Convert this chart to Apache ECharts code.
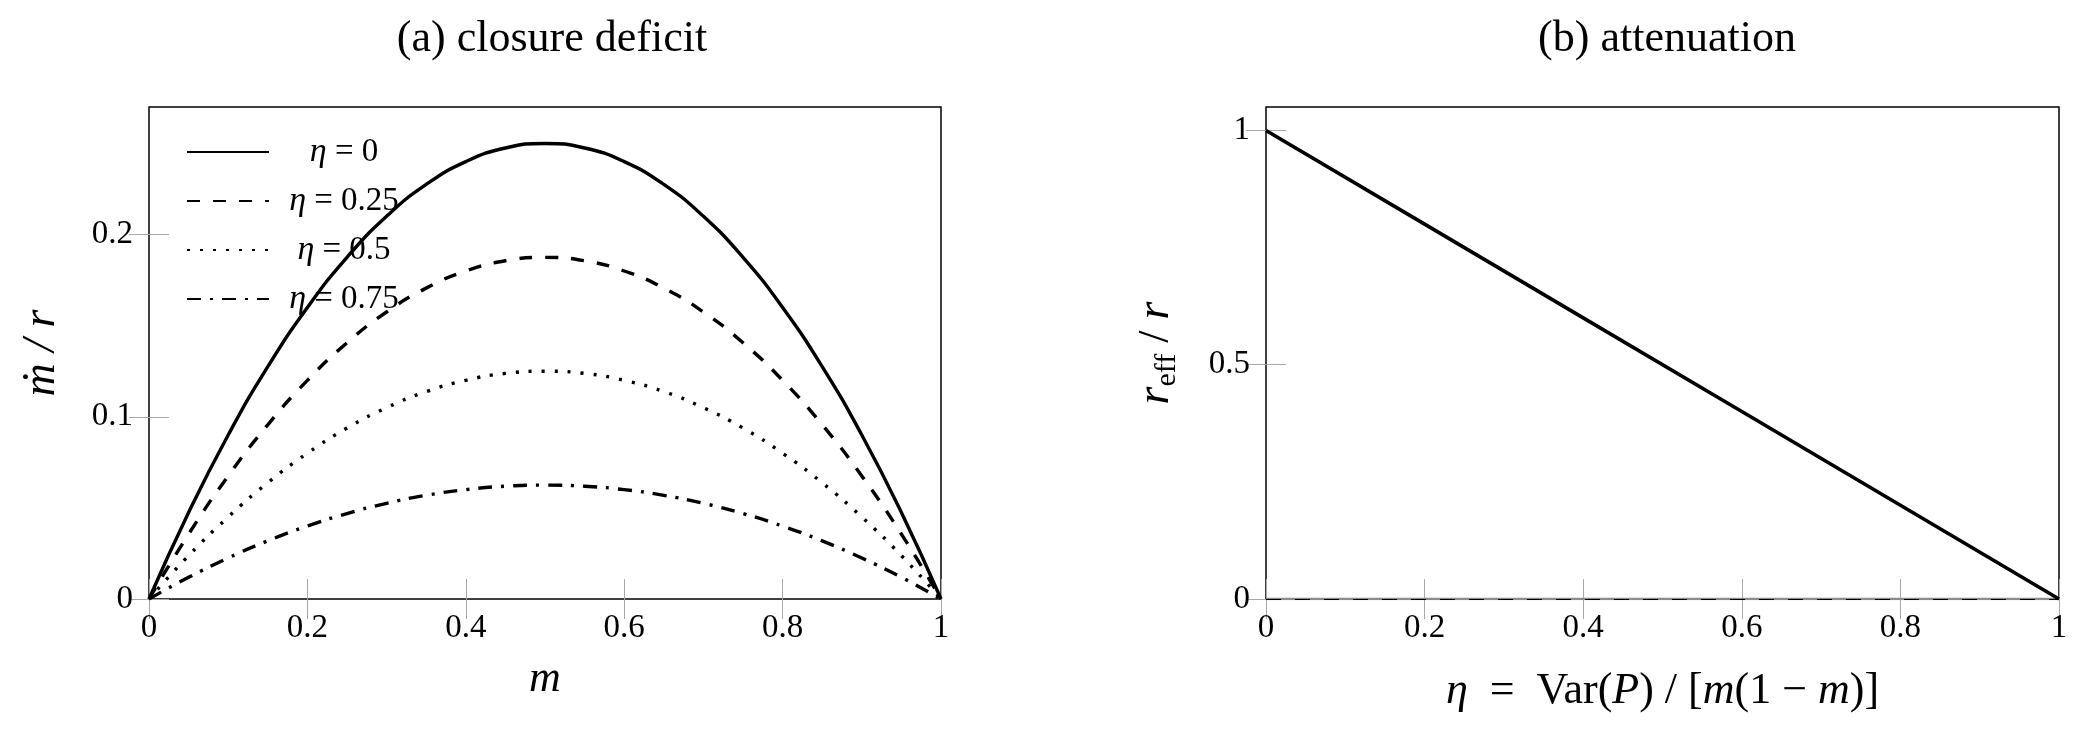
<!DOCTYPE html>
<html>
<head>
<meta charset="utf-8">
<script src="https://cdn.jsdelivr.net/npm/echarts@6/dist/echarts.min.js"></script>
<style>
  html, body { margin: 0; padding: 0; background: #fff; }
  #chart { width: 2084px; height: 738px; }
</style>
</head>
<body>
<div id="chart"></div>
<script>
// (a) closure deficit, every 0.05 in m
var mValues = [0, 0.05, 0.1, 0.15, 0.2, 0.25, 0.3, 0.35, 0.4, 0.45, 0.5,
               0.55, 0.6, 0.65, 0.7, 0.75, 0.8, 0.85, 0.9, 0.95, 1];
var eta0Values = [0, 0.0475, 0.09, 0.1275, 0.16, 0.1875, 0.21, 0.2275, 0.24, 0.2475, 0.25,
                  0.2475, 0.24, 0.2275, 0.21, 0.1875, 0.16, 0.1275, 0.09, 0.0475, 0];
var eta25Values = [0, 0.0356, 0.0675, 0.0956, 0.12, 0.1406, 0.1575, 0.1706, 0.18, 0.1856, 0.1875,
                   0.1856, 0.18, 0.1706, 0.1575, 0.1406, 0.12, 0.0956, 0.0675, 0.0356, 0];
var eta50Values = [0, 0.0238, 0.045, 0.0638, 0.08, 0.0938, 0.105, 0.1138, 0.12, 0.1238, 0.125,
                   0.1238, 0.12, 0.1138, 0.105, 0.0938, 0.08, 0.0638, 0.045, 0.0238, 0];
var eta75Values = [0, 0.0119, 0.0225, 0.0319, 0.04, 0.0469, 0.0525, 0.0569, 0.06, 0.0619, 0.0625,
                   0.0619, 0.06, 0.0569, 0.0525, 0.0469, 0.04, 0.0319, 0.0225, 0.0119, 0];
var legendNames = ['η = 0', 'η = 0.25', 'η = 0.5', 'η = 0.75'];

// (b) attenuation
var etaValues = [0, 0.2, 0.4, 0.6, 0.8, 1];
var ratioValues = [1, 0.8, 0.6, 0.4, 0.2, 0];
var zeroX = [0, 1];
var zeroY = [0, 0];

// tick labels
var xTicks = [0, 0.2, 0.4, 0.6, 0.8, 1];
var yTicksA = [0, 0.1, 0.2];
var yTicksB = [0, 0.5, 1];

var FONT = 'Liberation Serif';
var TICK_GRAY = '#a8a8a8';

function pairs(xs, ys) {
    var out = [];
    for (var i = 0; i < xs.length; i++) {
        out.push([xs[i], ys[i]]);
    }
    return out;
}

function axis(gridIndex, position, min, max, ticks, showLabels, margin) {
    return {
        type: 'value',
        gridIndex: gridIndex,
        position: position,
        min: min,
        max: max,
        axisLine: { show: false },
        splitLine: { show: false },
        axisTick: {
            show: true,
            inside: true,
            length: 20,
            customValues: ticks,
            lineStyle: { color: TICK_GRAY, width: 1 }
        },
        axisLabel: {
            show: showLabels,
            customValues: ticks,
            margin: margin,
            fontFamily: FONT,
            fontSize: 33,
            color: '#000'
        }
    };
}

var titleStyle = { fontFamily: FONT, fontSize: 44, fontWeight: 'normal', color: '#000' };

var xA = axis(0, 'bottom', 0, 1, xTicks, true, 13);
xA.name = 'm';
xA.nameLocation = 'middle';
xA.nameGap = 58;
xA.nameTextStyle = { fontFamily: FONT, fontSize: 44, fontStyle: 'italic', color: '#000' };

var xB = axis(1, 'bottom', 0, 1, xTicks, true, 13);
xB.name = '{i|η}{t|  =  Var(}{i|P}{t|) / [}{i|m}{t|(1 − }{i|m}{t|)]}';
xB.nameLocation = 'middle';
xB.nameGap = 70;
xB.nameTextStyle = {
    fontFamily: FONT, fontSize: 44, color: '#000',
    rich: {
        i: { fontFamily: FONT, fontSize: 44, fontStyle: 'italic', color: '#000' },
        t: { fontFamily: FONT, fontSize: 44, color: '#000' }
    }
};

var yA = axis(0, 'left', 0, 0.27, yTicksA, true, 16);
yA.name = 'ṁ / r';
yA.nameLocation = 'middle';
yA.nameGap = 84;
yA.nameTextStyle = { fontFamily: FONT, fontSize: 46, fontStyle: 'italic', color: '#000' };

var yB = axis(1, 'left', 0, 1.05, yTicksB, true, 16);
yB.name = '{r|r}{s|eff}{t| / }{r|r}';
yB.nameLocation = 'middle';
yB.nameGap = 84;
yB.nameTextStyle = {
    fontFamily: FONT, fontSize: 44, color: '#000',
    rich: {
        r: { fontFamily: FONT, fontSize: 46, fontStyle: 'italic', color: '#000', lineHeight: 52 },
        s: { fontFamily: FONT, fontSize: 30, color: '#000', lineHeight: 28, verticalAlign: 'bottom' },
        t: { fontFamily: FONT, fontSize: 44, color: '#000', lineHeight: 52 }
    }
};

function curve(name, ys, dash) {
    return {
        name: name,
        type: 'line',
        xAxisIndex: 0,
        yAxisIndex: 0,
        data: pairs(mValues, ys),
        symbol: 'none',
        smooth: 0.5,
        lineStyle: { color: '#000', width: 3.4, type: dash },
        itemStyle: { color: '#000' }
    };
}

var chart = echarts.init(document.getElementById('chart'));
var option = {
    backgroundColor: '#fff',
    animation: false,
    title: [
        { text: '(a) closure deficit', left: 547, top: 12, textAlign: 'center', textStyle: titleStyle },
        { text: '(b) attenuation', left: 1662, top: 12, textAlign: 'center', textStyle: titleStyle }
    ],
    legend: {
        orient: 'vertical',
        left: 181,
        top: 130,
        itemWidth: 82,
        itemHeight: 14,
        itemGap: 15,
        data: legendNames,
        itemStyle: { opacity: 0 },
        formatter: function (name) {
            return '{i|η}{t|' + name.slice(1) + '}';
        },
        textStyle: {
            fontFamily: FONT, fontSize: 33, color: '#000', width: 140, lineHeight: 31,
            rich: {
                i: { fontFamily: FONT, fontSize: 34, fontStyle: 'italic', color: '#000', align: 'center' },
                t: { fontFamily: FONT, fontSize: 33, color: '#000', align: 'center' }
            }
        }
    },
    grid: [
        { left: 149, top: 107, width: 792, height: 492, show: true, borderColor: '#000', borderWidth: 1.5, backgroundColor: 'transparent' },
        { left: 1266, top: 107, width: 793, height: 492, show: true, borderColor: '#000', borderWidth: 1.5, backgroundColor: 'transparent' }
    ],
    xAxis: [
        xA,
        axis(0, 'top', 0, 1, xTicks, false, 13),
        xB,
        axis(1, 'top', 0, 1, xTicks, false, 13)
    ],
    yAxis: [
        yA,
        axis(0, 'right', 0, 0.27, yTicksA, false, 16),
        yB,
        axis(1, 'right', 0, 1.05, yTicksB, false, 16)
    ],
    series: [
        curve('η = 0', eta0Values, 'solid'),
        curve('η = 0.25', eta25Values, [13, 13]),
        curve('η = 0.5', eta50Values, [3, 10]),
        curve('η = 0.75', eta75Values, [14, 9, 3, 9]),
        {
            name: 'zero',
            type: 'line',
            xAxisIndex: 2,
            yAxisIndex: 2,
            data: pairs(zeroX, zeroY),
            symbol: 'none',
            silent: true,
            lineStyle: { color: '#8c8c8c', width: 2.5 },
            markLine: {
                silent: true,
                symbol: 'none',
                label: { show: false },
                data: [{ yAxis: 0 }],
                lineStyle: { color: '#000', width: 1, type: [15, 14] }
            }
        },
        {
            name: 'attenuation',
            type: 'line',
            xAxisIndex: 2,
            yAxisIndex: 2,
            data: pairs(etaValues, ratioValues),
            symbol: 'none',
            lineStyle: { color: '#000', width: 3.6 }
        }
    ]
};
chart.setOption(option);
</script>
</body>
</html>
